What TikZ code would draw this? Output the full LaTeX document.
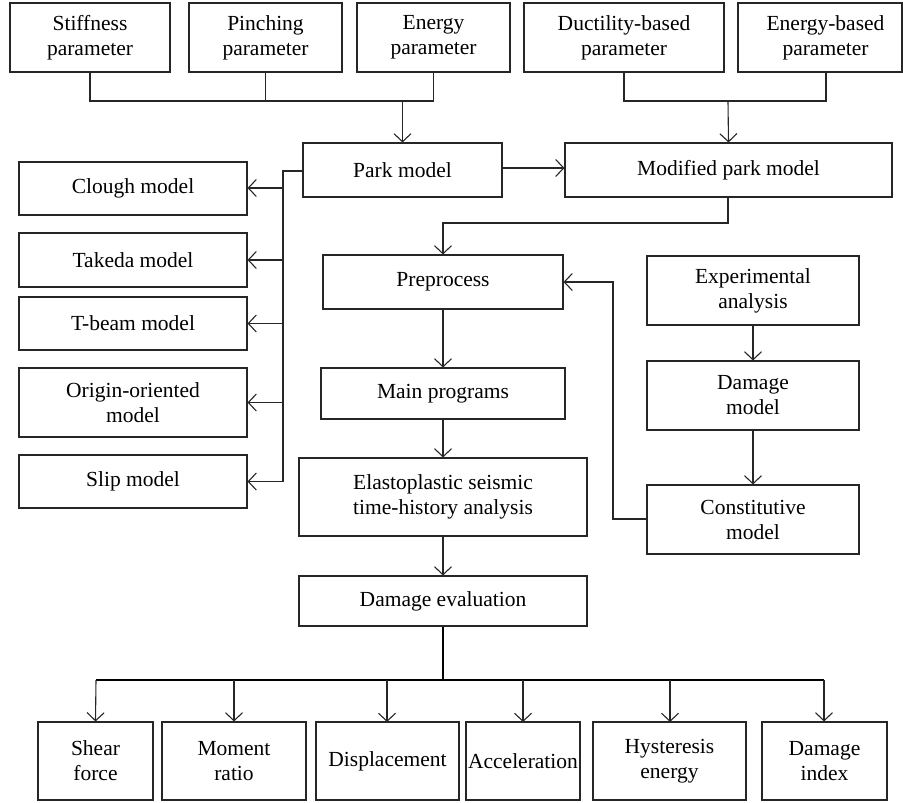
\documentclass[tikz,border=0pt]{standalone}
\usepackage{fontspec}
\setmainfont{Liberation Serif}
\usetikzlibrary{arrows.meta}
\tikzset{
  box/.style={draw=black!85, line width=1.1pt, inner sep=0pt, align=center,
    font=\fontsize{21.5}{25}\selectfont},
  conn/.style={draw=black!85, line width=1.1pt},
  arr/.style={conn, -{Straight Barb[length=8pt,width=17pt,line width=1.1pt]}},
  thick conn/.style={draw=black, line width=1.8pt}
}
\newcommand\bx[6]{\node[box, minimum width={#4-#2}, minimum height={#5-#3}] (#1) at ({(#2+#4)/2},{(#3+#5)/2}) {#6};}
\begin{document}
\begin{tikzpicture}[x=1pt,y=-1pt]
\useasboundingbox (0,0) rectangle (903,803);
% top row
\bx{stiff}{10}{3}{170}{72}{Stiffness\\parameter}
\bx{pinch}{189}{3}{342}{72}{Pinching\\parameter}
\bx{energy}{357}{3}{510}{72}{Energy\\parameter}
\bx{duct}{524}{3}{724}{72}{Ductility-based\\parameter}
\bx{ebased}{738}{3}{902}{72}{\hspace*{11pt}Energy-based\\\hspace*{11pt}parameter}
% park row
\bx{park}{303}{143}{502}{197}{Park model}
\bx{mpark}{565}{143}{892}{197}{Modified park model}
% left column
\bx{clough}{19}{162}{247}{215}{Clough model}
\bx{takeda}{19}{233}{247}{287}{Takeda model}
\bx{tbeam}{19}{297}{247}{350}{T-beam model}
\bx{origin}{19}{368}{247}{437}{Origin-oriented\\model}
\bx{slip}{19}{455}{247}{508}{Slip model}
% middle column
\bx{pre}{323}{255}{563}{309}{Preprocess}
\bx{main}{321}{368}{565}{419}{Main programs}
\bx{elasto}{299}{458}{587}{536}{Elastoplastic seismic\\time-history analysis}
\bx{deval}{299}{576}{587}{626}{Damage evaluation}
% right column
\bx{exp}{647}{256}{859}{325}{Experimental\\analysis}
\bx{dmodel}{647}{361}{859}{430}{Damage\\model}
\bx{const}{647}{485}{859}{554}{Constitutive\\model}
% bottom row
\bx{shear}{38}{722}{153}{800}{Shear\\force}
\bx{moment}{162}{722}{306}{800}{Moment\\ratio}
\bx{disp}{316}{722}{459}{800}{Displacement}
\bx{acc}{466}{722}{580}{800}{Acceleration}
\bx{hyst}{593}{722}{746}{800}{Hysteresis\\energy}
\bx{dindex}{762}{722}{887}{800}{Damage\\index}

% coordinates
\coordinate (j1) at (402.5,101);
\coordinate (j2) at (728,101);
\coordinate (ebdrop) at (826,72);
\coordinate (spine) at (283,171);
\coordinate (mpdrop) at (728,197);
\coordinate (mpbend) at (728,223);
\coordinate (fb1) at (613,519);
\coordinate (fb2) at (613,282);
\coordinate (bus) at (443,680);
\coordinate (busL) at (96,680);
\coordinate (busR) at (824,680);

% top parameter buses
\draw[conn] (stiff.south) -- (stiff.south|-j1) -- (energy.south|-j1) -- (energy.south);
\draw[conn] (pinch.south) -- (pinch.south|-j1);
\draw[arr] (j1) -- (park.north);
\draw[conn] (duct.south) -- (duct.south|-j2) -- (ebdrop|-j2) -- (ebdrop);
\draw[arr] (j2) -- (mpark.north);

% park to modified park
\draw[arr] (park.east|-0,168) -- (mpark.west|-0,168);

% park model to left column
\draw[conn] (park.west|-spine) -- (spine) -- (spine|-slip.east);
\draw[arr] (spine|-0,188) -- (clough.east|-0,188);
\draw[arr] (spine|-takeda.east) -- (takeda.east);
\draw[arr] (spine|-tbeam.east) -- (tbeam.east);
\draw[arr] (spine|-origin.east) -- (origin.east);
\draw[arr] (spine|-slip.east) -- (slip.east);

% modified park to preprocess
\draw[arr] (mpdrop) -- (mpbend) -- (mpbend-|bus) -- (pre.north-|bus);

% middle chain
\draw[arr] (pre.south-|bus) -- (main.north-|bus);
\draw[arr] (main.south-|bus) -- (elasto.north-|bus);
\draw[arr] (elasto.south-|bus) -- (deval.north-|bus);

% right chain
\draw[arr] (exp.south) -- (dmodel.north);
\draw[arr] (dmodel.south) -- (const.north);
\draw[arr] (const.west|-fb1) -- (fb1) -- (fb2) -- (pre.east|-fb2);

% damage evaluation bus
\draw[thick conn] (deval.south-|bus) -- (bus);
\draw[draw=black, line width=1.3pt] (busL) -- (busR);
\draw[arr] (busL) -- (shear.north);
\draw[arr] (moment.north|-bus) -- (moment.north);
\draw[arr] (387,680) -- (387,722);
\draw[arr] (523,680) -- (523,722);
\draw[arr] (670,680) -- (670,722);
\draw[arr] (busR) -- (busR|-dindex.north);
\end{tikzpicture}
\end{document}
